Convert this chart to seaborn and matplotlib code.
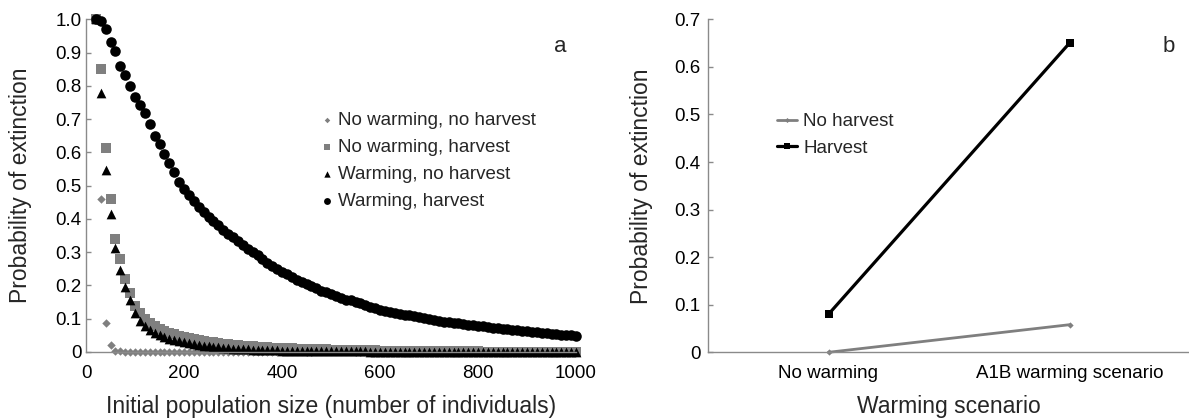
import matplotlib
matplotlib.use("Agg")
import matplotlib.pyplot as plt
import pandas as pd
import seaborn as sns

sns.set_theme(style="white")
plt.rcParams["font.family"] = ["Liberation Sans", "DejaVu Sans"]

# ---- Panel a: extinction probability vs initial population size ----
population_size = list(range(20, 1001, 10))

nowarm_noharvest = [
    1.000, 0.460, 0.088, 0.020, 0.004, 0.002, 0.001, 0.000, 0.000, 0.000,
    0.000, 0.000, 0.000, 0.000, 0.000, 0.000, 0.000, 0.000, 0.000, 0.000,
    0.000, 0.000, 0.000, 0.000, 0.000, 0.000, 0.000, 0.000, 0.000, 0.000,
    0.000, 0.000, 0.000, 0.000, 0.000, 0.000, 0.000, 0.000, 0.000, 0.000,
    0.000, 0.000, 0.000, 0.000, 0.000, 0.000, 0.000, 0.000, 0.000, 0.000,
    0.000, 0.000, 0.000, 0.000, 0.000, 0.000, 0.000, 0.000, 0.000, 0.000,
    0.000, 0.000, 0.000, 0.000, 0.000, 0.000, 0.000, 0.000, 0.000, 0.000,
    0.000, 0.000, 0.000, 0.000, 0.000, 0.000, 0.000, 0.000, 0.000, 0.000,
    0.000, 0.000, 0.000, 0.000, 0.000, 0.000, 0.000, 0.000, 0.000, 0.000,
    0.000, 0.000, 0.000, 0.000, 0.000, 0.000, 0.000, 0.000, 0.000,
]

nowarm_harvest = [
    1.000, 0.850, 0.613, 0.460, 0.340, 0.280, 0.218, 0.177, 0.139, 0.118,
    0.100, 0.088, 0.078, 0.070, 0.063, 0.058, 0.053, 0.049, 0.045, 0.042,
    0.039, 0.036, 0.034, 0.031, 0.029, 0.027, 0.025, 0.023, 0.021, 0.020,
    0.019, 0.018, 0.017, 0.016, 0.015, 0.014, 0.013, 0.013, 0.012, 0.011,
    0.011, 0.010, 0.010, 0.009, 0.009, 0.008, 0.008, 0.008, 0.007, 0.007,
    0.006, 0.006, 0.006, 0.006, 0.005, 0.005, 0.005, 0.005, 0.004, 0.004,
    0.004, 0.004, 0.004, 0.003, 0.003, 0.003, 0.003, 0.003, 0.003, 0.002,
    0.002, 0.002, 0.002, 0.002, 0.002, 0.002, 0.002, 0.002, 0.002, 0.001,
    0.001, 0.001, 0.001, 0.001, 0.001, 0.001, 0.001, 0.001, 0.001, 0.001,
    0.001, 0.001, 0.001, 0.001, 0.001, 0.001, 0.001, 0.001, 0.001,
]

warm_noharvest = [
    1.000, 0.777, 0.546, 0.416, 0.313, 0.246, 0.194, 0.156, 0.116, 0.092,
    0.078, 0.067, 0.058, 0.051, 0.045, 0.040, 0.036, 0.032, 0.029, 0.026,
    0.023, 0.021, 0.019, 0.017, 0.015, 0.014, 0.012, 0.011, 0.010, 0.009,
    0.008, 0.008, 0.007, 0.006, 0.006, 0.005, 0.005, 0.005, 0.004, 0.004,
    0.004, 0.003, 0.003, 0.003, 0.003, 0.003, 0.002, 0.002, 0.002, 0.002,
    0.002, 0.002, 0.002, 0.002, 0.002, 0.002, 0.001, 0.001, 0.001, 0.001,
    0.001, 0.001, 0.001, 0.001, 0.001, 0.001, 0.001, 0.001, 0.001, 0.001,
    0.001, 0.001, 0.001, 0.001, 0.001, 0.001, 0.001, 0.001, 0.001, 0.001,
    0.001, 0.001, 0.001, 0.001, 0.001, 0.001, 0.001, 0.001, 0.001, 0.001,
    0.001, 0.001, 0.001, 0.001, 0.001, 0.001, 0.001, 0.001, 0.001,
]

warm_harvest = [
    1.000, 0.996, 0.970, 0.932, 0.905, 0.860, 0.832, 0.800, 0.767, 0.742,
    0.717, 0.684, 0.649, 0.625, 0.595, 0.569, 0.542, 0.511, 0.491, 0.472,
    0.455, 0.437, 0.421, 0.407, 0.393, 0.381, 0.368, 0.356, 0.345, 0.333,
    0.322, 0.311, 0.300, 0.291, 0.280, 0.268, 0.259, 0.248, 0.240, 0.233,
    0.225, 0.216, 0.210, 0.204, 0.198, 0.191, 0.184, 0.179, 0.173, 0.168,
    0.162, 0.157, 0.155, 0.150, 0.146, 0.141, 0.136, 0.131, 0.127, 0.124,
    0.121, 0.118, 0.115, 0.112, 0.110, 0.107, 0.104, 0.102, 0.099, 0.097,
    0.094, 0.091, 0.089, 0.087, 0.086, 0.084, 0.082, 0.080, 0.078, 0.077,
    0.075, 0.073, 0.072, 0.070, 0.068, 0.066, 0.065, 0.064, 0.062, 0.061,
    0.059, 0.057, 0.056, 0.055, 0.053, 0.052, 0.051, 0.050, 0.048,
]

series_a = [
    ("No warming, no harvest", nowarm_noharvest),
    ("No warming, harvest", nowarm_harvest),
    ("Warming, no harvest", warm_noharvest),
    ("Warming, harvest", warm_harvest),
]
x_ticks_a = [0, 200, 400, 600, 800, 1000]
y_ticks_a = [0, 0.1, 0.2, 0.3, 0.4, 0.5, 0.6, 0.7, 0.8, 0.9, 1.0]
y_ticklabels_a = ["0", "0.1", "0.2", "0.3", "0.4", "0.5", "0.6", "0.7", "0.8", "0.9", "1.0"]

# ---- Panel b: warming scenario comparison ----
scenarios = ["No warming", "A1B warming scenario"]
no_harvest = [0.0, 0.058]
harvest = [0.08, 0.65]
y_ticks_b = [0, 0.1, 0.2, 0.3, 0.4, 0.5, 0.6, 0.7]
y_ticklabels_b = ["0", "0.1", "0.2", "0.3", "0.4", "0.5", "0.6", "0.7"]

GRAY = "#7f7f7f"
SPINE = "#8a8a8a"
TICK_FS = 13.5
LABEL_FS = 16.5

W, H = 1189, 418
fig = plt.figure(figsize=(W / 100, H / 100), dpi=100)
ax_a = fig.add_axes([86 / W, 1 - 352 / H, (576 - 86) / W, (352 - 19.3) / H])
ax_b = fig.add_axes([708 / W, 1 - 352.3 / H, (1190 - 708) / W, (352.3 - 19.3) / H])

# marker, colour, area (pt^2)
marker_styles = [("D", GRAY, 4.3 ** 2), ("s", GRAY, 6.6 ** 2),
                 ("^", "black", 7.0 ** 2), ("o", "black", 7.6 ** 2)]

for (label, values), (mk, col, area) in zip(series_a, marker_styles):
    df = pd.DataFrame({"N": population_size, "p": values})
    sns.scatterplot(data=df, x="N", y="p", marker=mk, color=col, s=area,
                    linewidth=0, clip_on=False, label=label, legend=False, ax=ax_a)

ax_a.set_xlim(0, 1000)
ax_a.set_ylim(0, 1.0)
ax_a.set_xticks(x_ticks_a)
ax_a.set_xticklabels([str(t) for t in x_ticks_a])
ax_a.set_yticks(y_ticks_a)
ax_a.set_yticklabels(y_ticklabels_a)
ax_a.set_xlabel("Initial population size (number of individuals)", fontsize=LABEL_FS)
ax_a.set_ylabel("Probability of extinction", fontsize=LABEL_FS)

leg_a = ax_a.legend(loc="center left", bbox_to_anchor=(319.5 / W, 1 - 161.2 / H),
                    bbox_transform=fig.transFigure, frameon=False, fontsize=TICK_FS,
                    borderpad=0, borderaxespad=0, handlelength=0.8, handletextpad=0.2,
                    labelspacing=0.53, markerscale=0.65)

# Panel b lines
df_nh = pd.DataFrame({"scenario": scenarios, "p": no_harvest})
df_h = pd.DataFrame({"scenario": scenarios, "p": harvest})
sns.lineplot(data=df_nh, x="scenario", y="p", color=GRAY, lw=2.0, marker="D",
             markersize=3.2, markeredgewidth=0, clip_on=False, label="No harvest",
             legend=False, ax=ax_b)
sns.lineplot(data=df_h, x="scenario", y="p", color="black", lw=2.3, marker="s",
             markersize=6.0, markeredgewidth=0, clip_on=False, label="Harvest",
             legend=False, ax=ax_b)

ax_b.set_xlim(-0.5, 1.5)
ax_b.set_ylim(0, 0.7)
ax_b.set_yticks(y_ticks_b)
ax_b.set_yticklabels(y_ticklabels_b)
ax_b.set_xlabel("Warming scenario", fontsize=LABEL_FS)
ax_b.set_ylabel("Probability of extinction", fontsize=LABEL_FS)

leg_b = ax_b.legend(loc="center left", bbox_to_anchor=(776.7 / W, 1 - 135 / H),
                    bbox_transform=fig.transFigure, frameon=False, fontsize=TICK_FS,
                    borderpad=0, borderaxespad=0, handlelength=1.07, handletextpad=0.35,
                    labelspacing=0.5, markerscale=0.8)

for ax, ypad in ((ax_a, 3.0), (ax_b, 5.5)):
    sns.despine(ax=ax)
    for side in ("left", "bottom"):
        ax.spines[side].set_color(SPINE)
        ax.spines[side].set_linewidth(1.0)
    ax.tick_params(axis="y", direction="in", length=3.6, width=1.0, color=SPINE,
                   pad=ypad, labelsize=TICK_FS, labelcolor="black", left=True)
    ax.tick_params(axis="x", length=0, pad=9, labelsize=TICK_FS, labelcolor="black")
    ax.grid(False)

ax_a.yaxis.set_label_coords((32 - 86) / 490, 0.5)
ax_b.yaxis.set_label_coords((653 - 708) / 482, 0.5)
ax_a.xaxis.set_label_coords(0.5, -(395 - 352) / 332.7)
ax_b.xaxis.set_label_coords(0.5, -(395 - 352.3) / 333.0)

fig.text(560 / W, 1 - 47 / H, "a", fontsize=16, ha="center", va="center")
fig.text(1169 / W, 1 - 46 / H, "b", fontsize=16, ha="center", va="center")

fig.savefig("out.png", dpi=100)
